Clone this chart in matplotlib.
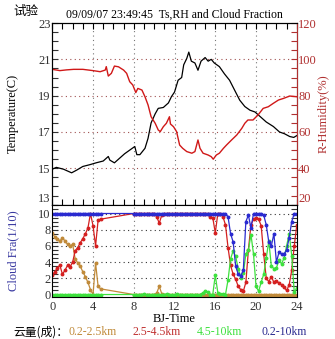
import numpy as np
import matplotlib.pyplot as plt
from matplotlib.ticker import MultipleLocator

plt.rcParams['font.family'] = ['Liberation Serif', 'Noto Sans CJK SC']

# surface temperature (C) and relative humidity (%) against Beijing time
ts_hours = [0, 0.4, 1.1, 1.9, 2.4, 3.0, 3.7, 4.3, 5.0, 5.5, 5.65, 6.1, 6.6, 7.1, 7.6,
            8.1, 8.3, 8.6, 9.1, 9.4, 9.7, 10.1, 10.4, 10.9, 11.4, 11.7, 12.0, 12.35,
            12.7, 12.9, 13.2, 13.4, 13.65, 14.0, 14.3, 14.6, 15.0, 15.3, 15.6, 15.9,
            16.4, 16.9, 17.4, 17.9, 18.4, 18.9, 19.4, 19.9, 20.4, 21.0, 21.7, 22.3,
            22.8, 23.3, 23.7, 24]
ts_vals = [14.95, 15.05, 14.95, 14.75, 14.9, 15.1, 15.2, 15.3, 15.4, 15.65, 15.45,
           15.3, 15.55, 15.8, 16.0, 16.2, 15.75, 15.75, 16.1, 16.65, 17.5, 18.0, 18.3,
           18.35, 18.6, 18.95, 19.2, 19.85, 20.0, 20.7, 21.05, 21.4, 20.9, 20.8, 20.4,
           20.9, 21.1, 20.9, 21.0, 20.8, 20.6, 20.2, 19.85, 19.3, 18.75, 18.4, 18.2,
           18.1, 17.85, 17.55, 17.3, 17.0, 16.9, 16.75, 16.7, 16.8]

rh_hours = [0, 0.75, 1.4, 2.1, 3.0, 4.0, 4.7, 5.2, 5.3, 5.5, 5.8, 6.1, 6.5, 7.0, 7.3,
            7.6, 7.9, 8.2, 8.4, 8.8, 9.1, 9.4, 9.7, 10.1, 10.4, 10.6, 10.9, 11.2, 11.5,
            11.6, 11.9, 12.2, 12.5, 12.8, 13.2, 13.7, 14.0, 14.3, 14.5, 14.8, 15.3,
            15.6, 15.8, 16.1, 16.4, 16.8, 17.1, 17.6, 18.1, 18.6, 18.9, 19.2, 19.7,
            20.2, 20.7, 21.2, 21.7, 22.2, 22.7, 23.3, 24]
rh_vals = [94.5, 93.8, 94.2, 94.5, 94.5, 93.8, 93.2, 94.1, 96.0, 90.8, 92.3, 96.3,
           95.9, 94.1, 92.3, 87.7, 85.9, 81.7, 84.0, 83.1, 79.4, 74.9, 68.4, 64.8,
           61.1, 60.2, 62.9, 64.8, 68.4, 64.4, 62.9, 60.2, 52.8, 51.0, 49.2, 48.3,
           49.2, 55.6, 51.0, 48.3, 47.3, 46.4, 45.0, 47.3, 48.3, 51.0, 52.8, 55.6,
           58.3, 62.0, 64.8, 66.6, 66.6, 69.4, 73.0, 73.9, 75.8, 77.6, 78.5, 79.8, 79.4]

# cloud fraction (tenths), every 15 min; no record between 04:45 and 08:00
cf_hours = np.concatenate([np.arange(0, 4.76, 0.25), np.arange(8.0, 24.01, 0.25)])

cf_low = [7.6, 7.1, 6.9, 6.6, 7.0, 6.6, 6.2, 6.0, 6.2, 4.4, 3.9, 3.5,
          2.8, 2.2, 1.5, 0.6, 0.0, 3.9, 1.0, 0.7,
          0.0, 0.0, 0.0, 0.0,   0.0, 0.0, 0.0, 0.0,   0.0, 0.2, 1.0, 0.1,
          0.0, 0.0, 0.0, 0.0,   0.0, 0.0, 0.0, 0.0,   0.0, 0.0, 0.0, 0.0,
          0.0, 0.0, 0.0, 0.0,   0.0, 0.0, 0.0, 0.0,   0.0, 0.0, 0.0, 0.0,
          0.0, 0.0, 0.0, 0.0,   0.0, 0.0, 0.0, 0.0,   0.0, 0.0, 0.0, 0.0,
          0.0, 0.0, 0.0, 0.0,   0.0, 0.0, 0.0, 0.0,   0.0, 0.0, 0.0, 0.0,
          0.0, 0.0, 0.0, 0.0,   0.0]
cf_mid = [2.4, 2.8, 3.3, 3.6, 2.5, 3.0, 3.6, 3.4, 4.0, 5.4, 5.8, 6.4,
          6.9, 7.5, 8.2, 10.0, 8.5, 6.0, 9.2, 9.3,
          10.0, 10.0, 10.0, 10.0,   10.0, 10.0, 10.0, 10.0,   10.0, 9.6, 8.8, 9.8,
          10.0, 10.0, 10.0, 10.0,   10.0, 10.0, 10.0, 10.0,   10.0, 10.0, 10.0, 10.0,
          10.0, 10.0, 10.0, 10.0,   10.0, 10.0, 9.6, 9.5,     7.6, 10.0, 10.0, 9.6,
          8.6, 5.8, 3.6, 2.5,       1.9, 1.0, 0.6, 0.4,       1.5, 5.5, 8.6, 9.3,
          9.4, 9.3, 8.5, 5.0,       2.0, 1.6, 2.2, 1.5,       1.7, 1.4, 1.2, 0.9,
          0.5, 1.2, 3.0, 6.0,       8.6]
cf_high = [0.0, 0.0, 0.0, 0.0, 0.0, 0.0, 0.0, 0.0, 0.0, 0.0, 0.0, 0.0,
           0.0, 0.0, 0.0, 0.0, 0.0, 0.0, 0.0, 0.0,
           0.0, 0.0, 0.0, 0.0,   0.1, 0.0, 0.0, 0.0,   0.0, 0.0, 0.0, 0.0,
           0.0, 0.1, 0.0, 0.0,   0.0, 0.1, 0.0, 0.0,   0.0, 0.0, 0.0, 0.0,
           0.0, 0.0, 0.0, 0.2,   0.4, 0.3, 0.0, 0.0,   2.4, 0.2, 0.1, 0.1,
           0.0, 1.8, 4.4, 5.4,   4.7, 3.2, 2.1, 2.6,   5.0, 5.5, 7.4, 5.0,
           1.0, 0.4, 1.5, 2.5,   4.5, 6.6, 3.5, 3.2,   3.3, 4.2, 3.8, 4.5,
           6.0, 7.5, 4.8, 0.3,   0.8]
cf_total = [10.0] * 20 + [10.0] * 36 + \
           [10.0, 9.6, 7.5, 6.5,   3.5, 2.5, 2.3, 3.0,   9.0, 9.8, 8.2, 10.0,
            10.0, 10.0, 10.0, 9.8,  8.6, 6.5, 6.0, 7.5,   4.0, 5.2, 5.0, 5.0,
            5.5, 7.0, 9.0, 10.0,   10.0]

cf_labels = ['0.2-2.5km', '2.5-4.5km', '4.5-10km', '0.2-10km']
cf_colors = ['#c08a3a', '#d42020', '#3de03d', '#2a2ad0']
label_colors = ['#c08a3a', '#c03030', '#3de03d', '#2a2a90']

rh_color = '#b03030'
fig = plt.figure(figsize=(3.35, 3.39), dpi=100)
fig.patch.set_facecolor('white')

ax = fig.add_axes([0.156, 0.3965, 0.73, 0.5355])
rx = ax.twinx()
cx = fig.add_axes([0.156, 0.124, 0.73, 0.2725])

# upper panel: temperature and humidity
ax.plot(ts_hours, ts_vals, color='black', lw=0.9)
rx.plot(rh_hours, rh_vals, color='#d01818', lw=1.0)
ax.set_xlim(0, 24)
ax.set_ylim(13, 23)
rx.set_ylim(20, 120)
ax.set_xticks([])
ax.xaxis.set_minor_locator(MultipleLocator(1))
ax.set_yticks([13, 15, 17, 19, 21, 23])
ax.yaxis.set_minor_locator(MultipleLocator(0.5))
rx.set_yticks([20, 40, 60, 80, 100, 120])
rx.yaxis.set_minor_locator(MultipleLocator(5))
ax.tick_params(axis='x', which='both', direction='in', top=True, bottom=True,
               length=4, width=0.8)
ax.tick_params(axis='y', which='both', direction='in', length=4, width=0.8,
               labelsize=9, colors='#333333', pad=1)
rx.tick_params(axis='y', which='both', direction='in', length=4, width=0.8,
               labelsize=9, colors=rh_color, pad=1)
rx.spines['right'].set_color(rh_color)
# lowest labels sit just above the panel boundary
ax.get_yticklabels()[0].set_verticalalignment('bottom')
rx.get_yticklabels()[0].set_verticalalignment('bottom')
for t in [15, 17, 19, 21]:
    ax.axhline(t, color='#a05050', lw=0.8, ls=(0, (1, 3)), zorder=0)
for h in [4, 8, 12, 16, 20]:
    ax.axvline(h, color='#777777', lw=0.8, ls=(0, (1, 3)), zorder=0)
ax.set_ylabel('Temperature(C)', fontsize=9)
ax.yaxis.set_label_coords(-0.135, 0.5)
rx.set_ylabel('R-Humidity(%)', fontsize=9, color=rh_color)
rx.yaxis.set_label_coords(1.085, 0.5)
ax.set_title('09/09/07 23:49:45  Ts,RH and Cloud Fraction', fontsize=8.5, pad=4)

# lower panel: cloud fraction per layer
for vals, col in zip([cf_low, cf_mid, cf_high, cf_total], cf_colors):
    cx.plot(cf_hours, vals, color=col, lw=0.9, marker='o', ms=1.8, mec=col, mfc=col)
cx.set_xlim(0, 24)
cx.set_ylim(-0.3, 11.1)
cx.xaxis.set_major_locator(MultipleLocator(4))
cx.yaxis.set_major_locator(MultipleLocator(2))
cx.yaxis.set_minor_locator(MultipleLocator(0.5))
cx.tick_params(axis='x', which='both', length=0, labelsize=9, colors='#333333', pad=3)
cx.tick_params(axis='y', which='both', direction='in', right=True, length=4,
               width=0.8, labelsize=9, colors='#333333', pad=1)
for c in [2, 4, 6, 8, 10]:
    cx.axhline(c, color='#333333', lw=0.8, ls=(0, (1, 3)), zorder=0)
for h in [4, 8, 12, 16, 20]:
    cx.axvline(h, color='#777777', lw=0.8, ls=(0, (1, 3)), zorder=0)
cx.set_xlabel('BJ-Time', fontsize=9, labelpad=0)
cx.set_ylabel('Cloud Fra(1/10)', fontsize=9, color='#3838a0')
cx.yaxis.set_label_coords(-0.135, 0.5)

fig.text(0.04, 0.965, '试验', fontsize=9, family=['Noto Sans CJK SC'], va='center')
fig.text(0.04, 0.022, '云量(成)：', fontsize=8.5, family=['Noto Sans CJK SC'],
         va='center')
for lab, col, x in zip(cf_labels, label_colors, [0.203, 0.397, 0.588, 0.782]):
    fig.text(x, 0.022, lab, fontsize=8.5, color=col, va='center')

fig.savefig('out.png', dpi=100)
